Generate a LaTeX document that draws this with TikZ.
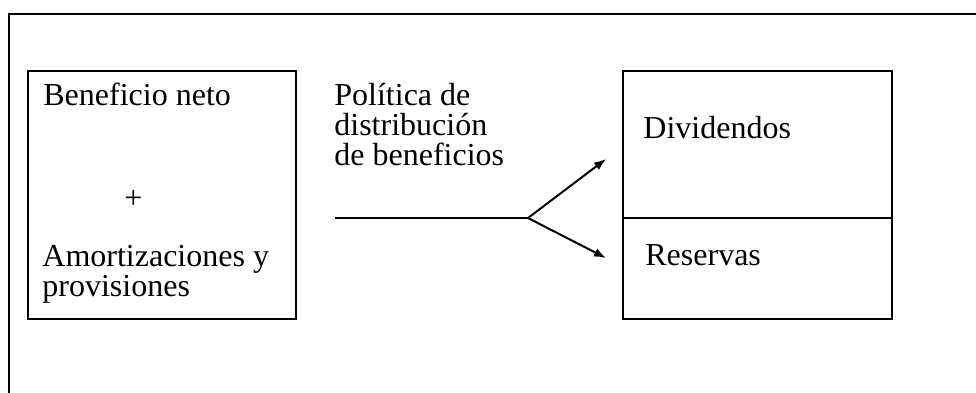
\documentclass[tikz,border=0pt]{standalone}
\usepackage{fontspec}
\setmainfont{Liberation Serif}
\usepackage{tikz}
\usetikzlibrary{arrows.meta}
\usetikzlibrary{positioning}
\tikzstyle{box} = [draw=black, line width=1pt, inner sep=0pt, outer sep=0pt,
anchor=north west]
\tikzstyle{txt} = [anchor=base west, inner sep=0pt, align=left,
font=\fontsize{16}{15}\selectfont]
\tikzstyle{flow} = [line width=1pt, >={Latex[length=6pt, width=4.5pt]}]

\begin{document}
\begin{tikzpicture}[x=0.5pt, y=-0.5pt]
  \useasboundingbox (0,0) rectangle (976,392);
  \clip (0,0) rectangle (976,392);
  % outer frame
  \draw[line width=1pt] (9,14) rectangle (1010,430);
  % boxes
  \node[box, minimum width=134pt, minimum height=124pt] (left) at (28,71) {};
  \node[box, minimum width=134.5pt, minimum height=73.5pt] (top) at (623,71) {};
  \node[box, minimum width=134.5pt, minimum height=50.5pt] (bottom) at (top.south west) {};
  % texts (multi-line nodes sit on their last baseline)
  \node[txt] (bn) at (43,105) {Beneficio neto};
  \node[txt] (plus) at (124,208) {+};
  \node[txt] (am) at (42,296) {Amortizaciones y\\provisiones};
  \node[txt] (pol) at (334,165) {Política de\\distribución\\de beneficios};
  \node[txt] (div) at (643,138) {Dividendos};
  \node[txt] (res) at (645,265) {Reservas};
  % flow
  \coordinate (in) at (335,218);
  \coordinate (fork) at (528,218);
  \coordinate (toDiv) at (606,159);
  \coordinate (toRes) at (606,258);

  % edges
  \draw[flow] (in) -- (fork);
  \draw[flow, ->] (fork) -- (toDiv);
  \draw[flow, ->] (fork) -- (toRes);
\end{tikzpicture}
\end{document}
